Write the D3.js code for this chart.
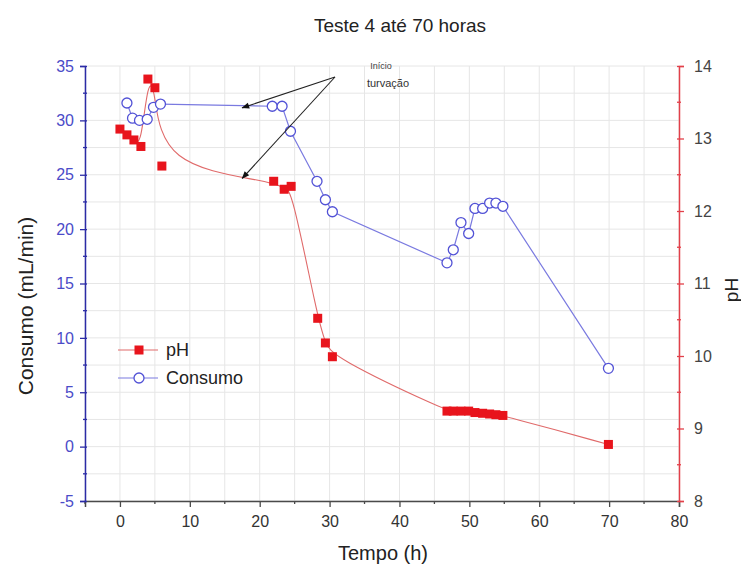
<!DOCTYPE html>
<html>
<head>
<meta charset="utf-8">
<script src="https://cdn.jsdelivr.net/npm/d3@7/dist/d3.min.js"></script>
<style>
  html, body { margin: 0; padding: 0; background: #fff; }
  svg { display: block; font-family: "Liberation Sans", Arial, sans-serif; }
</style>
</head>
<body>
<svg id="chart" width="741" height="573"></svg>
<script>
// ---- data ----
const phHours   = [0, 1, 2, 3, 4, 5, 6, 22, 23.5, 24.5, 28.3, 29.4, 30.4,
                   46.8, 47.7, 48.8, 49.9, 50.8, 51.9, 52.9, 53.8, 54.8, 69.9];
const phValues  = [13.13, 13.05, 12.98, 12.89, 13.82, 13.70, 12.62, 12.41, 12.30, 12.34, 10.52, 10.18, 9.99,
                   9.24, 9.24, 9.24, 9.24, 9.22, 9.21, 9.20, 9.19, 9.18, 8.78];
const consHours  = [1, 1.8, 2.8, 3.9, 4.8, 5.8, 21.8, 23.2, 24.4, 28.2, 29.4, 30.4,
                    46.8, 47.7, 48.8, 49.9, 50.8, 51.9, 52.9, 53.8, 54.8, 69.9];
const consValues = [31.6, 30.2, 30.0, 30.1, 31.2, 31.5, 31.3, 31.3, 29.0, 24.4, 22.7, 21.6,
                    16.9, 18.1, 20.6, 19.6, 21.9, 21.9, 22.4, 22.4, 22.1, 7.2];
const xTicks     = [0, 10, 20, 30, 40, 50, 60, 70, 80];
const leftTicks  = [-5, 0, 5, 10, 15, 20, 25, 30, 35];
const rightTicks = [8, 9, 10, 11, 12, 13, 14];
const titleText  = "Teste 4 até 70 horas";
const xLabel     = "Tempo (h)";
const yLeftLabel = "Consumo (mL/min)";
const yRightLabel = "pH";
const seriesNames = ["pH", "Consumo"];
const noteLines  = ["Início", "turvação"];
const noteTargets = [[17.5, 31.15, "left"], [17.5, 12.45, "right"]]; // hour, value, axis

// ---- layout ----
const svg = d3.select("#chart");
const L = 85, R = 679, T = 66, B = 501;
const x = d3.scaleLinear().domain([-5, 80]).range([L, R]);
const yL = d3.scaleLinear().domain([-5, 35]).range([B, T]);
const yR = d3.scaleLinear().domain([8, 14]).range([B, T]);
const plain = d => String(d);

const blueAxis = "#2b2ba6", redAxis = "#e2404a", greyAxis = "#4a4a4a";

// grid
const grid = svg.append("g").attr("stroke", "#e6e6e6").attr("stroke-width", 1);
d3.range(-5, 80.1, 5).forEach(v => {
  grid.append("line").attr("x1", x(v)).attr("x2", x(v)).attr("y1", T).attr("y2", B);
});
d3.range(-5, 35.1, 2.5).forEach(v => {
  grid.append("line").attr("x1", L).attr("x2", R).attr("y1", yL(v)).attr("y2", yL(v));
});

// axes
const xAxis = svg.append("g").attr("transform", `translate(0,${B})`)
  .call(d3.axisBottom(x).tickValues(xTicks).tickSize(6).tickPadding(9).tickFormat(plain));
xAxis.append("g").selectAll("line").data(d3.range(-5, 80, 10)).join("line")
  .attr("x1", d => x(d)).attr("x2", d => x(d)).attr("y1", 0).attr("y2", 3);
xAxis.select(".domain").attr("stroke", greyAxis).attr("stroke-width", 1.5);
xAxis.selectAll("line").attr("stroke", greyAxis).attr("stroke-width", 1.3);
xAxis.selectAll("text").attr("fill", "#333").attr("font-size", 16);

const lAxis = svg.append("g").attr("transform", `translate(${L},0)`)
  .call(d3.axisLeft(yL).tickValues(leftTicks).tickSize(5).tickPadding(6).tickFormat(plain));
lAxis.append("g").selectAll("line").data(d3.range(-2.5, 35, 5)).join("line")
  .attr("x1", -2).attr("x2", 2).attr("y1", d => yL(d)).attr("y2", d => yL(d));
lAxis.selectAll(".tick line").attr("x2", -5).attr("x1", 2);
lAxis.select(".domain").attr("stroke", blueAxis).attr("stroke-width", 1.5);
lAxis.selectAll("line").attr("stroke", blueAxis).attr("stroke-width", 1.3);
lAxis.selectAll("text").attr("fill", "#4b4bc8").attr("font-size", 16);

const rAxis = svg.append("g").attr("transform", `translate(${R},0)`)
  .call(d3.axisRight(yR).tickValues(rightTicks).tickSize(5).tickPadding(10).tickFormat(plain));
rAxis.append("g").selectAll("line").data(d3.range(8.5, 14, 1)).join("line")
  .attr("x1", -2).attr("x2", 2).attr("y1", d => yR(d)).attr("y2", d => yR(d));
rAxis.selectAll(".tick line").attr("x1", -2);
rAxis.select(".domain").attr("stroke", redAxis).attr("stroke-width", 1.5);
rAxis.selectAll("line").attr("stroke", redAxis).attr("stroke-width", 1.3);
rAxis.selectAll("text").attr("fill", "#444").attr("font-size", 16);
svg.selectAll(".domain").attr("fill", "none");

// titles
svg.append("text").attr("x", 400).attr("y", 32).attr("text-anchor", "middle")
  .attr("font-size", 19).attr("fill", "#222").text(titleText);
svg.append("text").attr("x", 383).attr("y", 560).attr("text-anchor", "middle")
  .attr("font-size", 20).attr("fill", "#222").text(xLabel);
svg.append("text").attr("transform", "translate(33,306) rotate(-90)").attr("text-anchor", "middle")
  .attr("font-size", 21).attr("fill", "#222").text(yLeftLabel);
svg.append("text").attr("transform", "translate(738,290) rotate(-90)").attr("text-anchor", "middle")
  .attr("font-size", 19).attr("fill", "#222").text(yRightLabel);

// series
const phData = phHours.map((h, i) => [h, phValues[i]]);
const consData = consHours.map((h, i) => [h, consValues[i]]);
const phColor = "#e8141c", phLineColor = "#e06a6a";
const consColor = "#5252d6", consLineColor = "#7a7ae0";

svg.append("path").datum(consData)
  .attr("fill", "none").attr("stroke", consLineColor).attr("stroke-width", 1.2)
  .attr("d", d3.line().x(d => x(d[0])).y(d => yL(d[1])));
svg.append("path").datum(phData)
  .attr("fill", "none").attr("stroke", phLineColor).attr("stroke-width", 1.1)
  .attr("d", d3.line().curve(d3.curveBasis).x(d => x(d[0])).y(d => yR(d[1])));

svg.append("g").selectAll("circle").data(consData).join("circle")
  .attr("cx", d => x(d[0])).attr("cy", d => yL(d[1])).attr("r", 5)
  .attr("fill", "#fff").attr("stroke", consColor).attr("stroke-width", 1.3);
const sq = 9;
svg.append("g").selectAll("rect").data(phData).join("rect")
  .attr("x", d => x(d[0]) - sq / 2).attr("y", d => yR(d[1]) - sq / 2)
  .attr("width", sq).attr("height", sq).attr("fill", phColor);

// annotation
svg.append("defs").append("marker").attr("id", "arr")
  .attr("viewBox", "0 0 10 10").attr("refX", 9).attr("refY", 5)
  .attr("markerWidth", 9).attr("markerHeight", 7).attr("orient", "auto")
  .append("path").attr("d", "M0,1 L10,5 L0,9 Z").attr("fill", "#111");
const apex = [335, 77];
noteTargets.forEach(t => {
  const ty = t[2] === "left" ? yL(t[1]) : yR(t[1]);
  svg.append("line").attr("x1", apex[0]).attr("y1", apex[1])
    .attr("x2", x(t[0])).attr("y2", ty)
    .attr("stroke", "#222").attr("stroke-width", 1.1).attr("marker-end", "url(#arr)");
});
svg.append("text").attr("x", 381).attr("y", 69).attr("text-anchor", "middle")
  .attr("font-size", 9).attr("fill", "#444").text(noteLines[0]);
svg.append("text").attr("x", 388).attr("y", 87).attr("text-anchor", "middle")
  .attr("font-size", 11).attr("fill", "#333").text(noteLines[1]);

// legend
const lg = svg.append("g");
[[350, "ph"], [378, "cons"]].forEach((row, i) => {
  const yy = row[0];
  lg.append("line").attr("x1", 118).attr("x2", 158).attr("y1", yy).attr("y2", yy)
    .attr("stroke", i === 0 ? phLineColor : consLineColor).attr("stroke-width", 1.2);
  if (i === 0) {
    lg.append("rect").attr("x", 139 - sq / 2).attr("y", yy - sq / 2).attr("width", sq).attr("height", sq).attr("fill", phColor);
  } else {
    lg.append("circle").attr("cx", 139).attr("cy", yy).attr("r", 5).attr("fill", "#fff").attr("stroke", consColor).attr("stroke-width", 1.3);
  }
  lg.append("text").attr("x", 166).attr("y", yy + 6).attr("font-size", 18).attr("fill", "#222").text(seriesNames[i]);
});
</script>
</body>
</html>
